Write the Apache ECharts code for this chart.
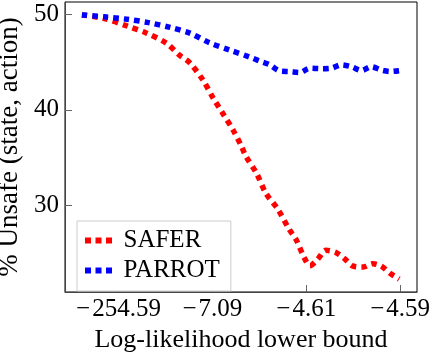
<!DOCTYPE html>
<html>
<head>
<meta charset="utf-8">
<script src="https://cdn.jsdelivr.net/npm/echarts@6.0.0/dist/echarts.min.js"></script>
<style>
    html, body { margin: 0; padding: 0; background: #fff; }
    #root { width: 432px; height: 354px; }
</style>
</head>
<body>
<div id="root"></div>
<script>
// x positions are evenly spaced tick slots (1..4), labels are the lower bounds
var xTickPos = [1, 2, 3, 4];
var xTickLabels = ['\u2212\u200a254.59', '\u2212\u200a7.09', '\u2212\u200a4.61', '\u2212\u200a4.59'];
var yTickValues = [30, 40, 50];

var saferX = [0.61, 0.84, 1.09, 1.30, 1.51, 1.65, 1.76, 1.90, 2.01, 2.11, 2.22, 2.31, 2.36, 2.47, 2.57, 2.70, 2.82, 2.89, 2.98, 3.04, 3.12, 3.21, 3.32, 3.41, 3.50, 3.60, 3.71, 3.80, 3.90, 3.99];
var saferY = [49.9, 49.55, 48.75, 48.0, 46.95, 45.7, 44.9, 43.1, 41.2, 39.65, 37.9, 36.2, 35.1, 33.4, 31.3, 29.6, 27.5, 26.5, 24.55, 23.75, 24.4, 25.35, 25.1, 24.45, 23.7, 23.6, 23.95, 23.7, 22.9, 22.35];

var parrotX = [0.61, 0.85, 1.09, 1.32, 1.55, 1.76, 1.97, 2.18, 2.40, 2.50, 2.61, 2.72, 2.82, 2.93, 3.04, 3.16, 3.27, 3.37, 3.48, 3.59, 3.69, 3.80, 3.90, 4.0];
var parrotY = [49.9, 49.7, 49.45, 49.1, 48.6, 48.0, 47.0, 46.25, 45.5, 45.1, 44.7, 44.05, 44.0, 43.9, 44.35, 44.3, 44.35, 44.7, 44.5, 44.1, 44.5, 44.15, 44.0, 44.1];

function pairs(xs, ys) {
    var out = [];
    xs.forEach(function (x, i) { out.push([x, ys[i]]); });
    return out;
}

var font = 'Liberation Serif';
// three square dots, like the dotted legend sample
var dotIcon = 'path://M0,0h6v6h-6z M10.5,0h6v6h-6z M21,0h6v6h-6z';
var chart = echarts.init(document.getElementById('root'), null, { renderer: 'canvas' });

var option = {
    animation: false,
    backgroundColor: '#fff',
    grid: {
        left: 65, right: 15, top: 2, bottom: 62,
        show: true, borderColor: '#000', borderWidth: 1,
        outerBoundsMode: 'none'
    },
    legend: {
        left: 77, top: 221,
        orient: 'vertical',
        backgroundColor: '#fff',
        borderColor: '#ccc', borderWidth: 1,
        padding: [7, 11, 8, 8],
        itemWidth: 28, itemHeight: 6, itemGap: 5,
        textStyle: { fontFamily: font, fontSize: 25, color: '#000', lineHeight: 22, padding: [0, 0, 0, 6] },
        data: [
            { name: 'SAFER', icon: dotIcon },
            { name: 'PARROT', icon: dotIcon }
        ]
    },
    xAxis: {
        type: 'value',
        min: 0.43, max: 4.18,
        name: 'Log-likelihood lower bound',
        nameLocation: 'middle',
        nameGap: 29,
        nameTextStyle: { fontFamily: font, fontSize: 26, color: '#000' },
        axisLine: { show: true, onZero: false, lineStyle: { color: '#444', width: 1 } },
        axisTick: { show: true, inside: true, length: 7, customValues: xTickPos, lineStyle: { color: '#666' } },
        axisLabel: {
            customValues: xTickPos,
            margin: 5,
            fontFamily: font, fontSize: 25, color: '#000',
            formatter: function (v) {
                var i = xTickPos.indexOf(v);
                return i >= 0 ? xTickLabels[i] : '';
            }
        },
        splitLine: { show: false }
    },
    yAxis: {
        type: 'value',
        min: 21, max: 51.25,
        name: '% Unsafe (state, action)',
        nameLocation: 'middle',
        nameGap: 40,
        nameTextStyle: { fontFamily: font, fontSize: 27, color: '#000' },
        axisLine: { show: true, lineStyle: { color: '#444', width: 1 } },
        axisTick: { show: true, inside: true, length: 7, customValues: yTickValues, lineStyle: { color: '#666' } },
        axisLabel: {
            customValues: yTickValues,
            margin: 6,
            fontFamily: font, fontSize: 25, color: '#000'
        },
        splitLine: { show: false }
    },
    series: [
        {
            name: 'SAFER',
            type: 'line',
            data: pairs(saferX, saferY),
            smooth: 0.3,
            symbol: 'none',
            color: '#ff0000',
            lineStyle: { color: '#ff0000', width: 5.5, type: [5.5, 5], cap: 'butt' },
            z: 3
        },
        {
            name: 'PARROT',
            type: 'line',
            data: pairs(parrotX, parrotY),
            smooth: 0.3,
            symbol: 'none',
            color: '#0000ff',
            lineStyle: { color: '#0000ff', width: 5.5, type: [5.5, 5], cap: 'butt' },
            z: 4
        }
    ]
};
chart.setOption(option);
</script>
</body>
</html>
